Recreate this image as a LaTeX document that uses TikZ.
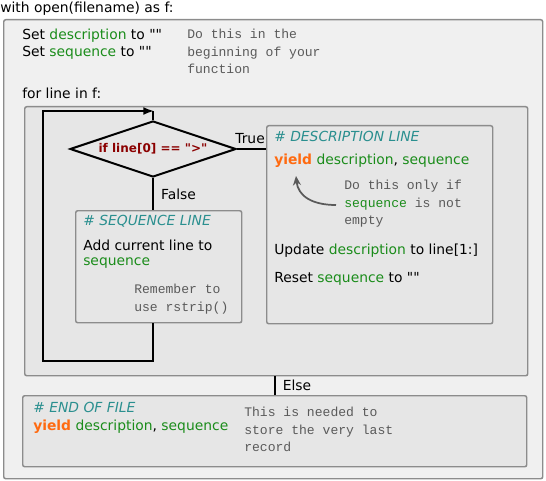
\documentclass[tikz,border=0pt]{standalone}
\usepackage{fontspec}
\setmainfont{DejaVu Sans}[Ligatures=TeXOff]
\newfontfamily\notefont{Liberation Mono}
\usepackage{xcolor}
\usetikzlibrary{arrows.meta, positioning, shapes.geometric}

\definecolor{vargreen}{HTML}{1A8C1A}
\definecolor{headteal}{HTML}{2A8F8F}
\definecolor{kworange}{HTML}{FF6A10}
\definecolor{conddark}{HTML}{8B0000}
\definecolor{notegray}{HTML}{5A5A5A}
\definecolor{outerfill}{HTML}{F0F0F0}
\definecolor{innerfill}{HTML}{E6E6E6}
\definecolor{boxline}{HTML}{8C8C8C}

\newcommand{\vn}[1]{\textcolor{vargreen}{#1}}
\newcommand{\kwd}[1]{\textcolor{kworange}{\bfseries #1}}
\newcommand{\hdr}[1]{\textcolor{headteal}{\itshape #1}}

\begin{document}
\begin{tikzpicture}[x=0.75pt, y=-0.75pt,
    font=\fontsize{10.4}{12}\selectfont,
    box/.style={rectangle, draw=boxline, line width=1.1pt, rounded corners=1.5pt, anchor=north west, inner sep=0pt},
    txt/.style={anchor=west, inner sep=0pt, align=left},
    note/.style={anchor=north west, inner sep=0pt, align=left, text=notegray, font=\notefont\fontsize{9.8}{13}\selectfont},
    flow/.style={line width=1.5pt, black}]
    \useasboundingbox (0,0) rectangle (546,481);

    % Outer with-block
    \node[txt] (withline) at (0,9) {with open(filename) as f:};
    \node[box, fill=outerfill, minimum width=404.25pt, minimum height=344.25pt] (outerbox) at (3,19) {};
    \node[txt] (setdesc) at (22,36) {Set \vn{description} to ""};
    \node[txt] (setseq) at (22,53) {Set \vn{sequence} to ""};
    \node[note] (initnote) at (187,29) {Do this in the\\beginning of your\\function};
    \node[txt] (forline) at (22,93) {for line in f:};

    % Loop body
    \node[box, fill=innerfill, minimum width=377.25pt, minimum height=201.75pt] (loopbox) at (24,106) {};
    \node[diamond, draw, line width=1.5pt, fill=innerfill, inner sep=0pt, aspect=3,
          minimum width=124.5pt, minimum height=42pt, text=conddark,
          font=\bfseries\fontsize{9}{10}\selectfont] (cond) at (153,149) {if line[0] == ">"};

    % Sequence branch
    \node[box, fill=innerfill, minimum width=124.5pt, minimum height=84pt] (seqbox) at (75,210) {};
    \node[txt] (seqhead) at (83,221) {\hdr{\# SEQUENCE LINE}};
    \node[txt] (seqadd) at (83,245) {Add current line to};
    \node[txt] (seqvar) at (83,263) {\vn{sequence}};
    \node[note] (seqnote) at (134,284) {Remember to\\use rstrip()};

    % Description branch
    \node[box, fill=innerfill, minimum width=169.5pt, minimum height=148.5pt] (descbox) at (266,125) {};
    \node[txt] (deschead) at (274,136) {\hdr{\# DESCRIPTION LINE}};
    \node[txt] (descyield) at (274,161) {\kwd{yield} \vn{description}, \vn{sequence}};
    \node[note] (descnote) at (344,180) {Do this only if\\\vn{sequence} is not\\empty};
    \draw[line width=1.3pt, notegray, -{Stealth[length=7pt, width=6pt]}]
        (descnote.north west) ++(-8,25) coordinate (notetail)
        .. controls (312,205) and (298,196) .. (296,176);
    \node[txt] (descupd) at (274,251) {Update \vn{description} to line[1:]};
    \node[txt] (descreset) at (274,279) {Reset \vn{sequence} to ""};

    % End of file
    \node[box, fill=innerfill, minimum width=378pt, minimum height=53.25pt] (eofbox) at (22,395) {};
    \node[txt] (eofhead) at (33,407) {\hdr{\# END OF FILE}};
    \node[txt] (eofyield) at (33,427) {\kwd{yield} \vn{description}, \vn{sequence}};
    \node[note] (eofnote) at (244,407) {This is needed to\\store the very last\\record};

    % Connectors
    \coordinate (loopbl) at (43,361);
    \coordinate (looptl) at (43,111);
    \coordinate (looptop) at (154,111);
    \draw[flow] (cond.south) -- (cond.south |- seqbox.north) node[pos=0.5, right=2pt] {False};
    \draw[flow] (cond.east) -- (cond.east -| descbox.west) node[pos=0.45, above=0pt] {True};
    \draw[flow, -{Latex[length=8pt, width=6pt]}] (cond.south |- seqbox.south) |- (loopbl) -- (looptl) -- (looptop);
    \draw[flow] (cond.north |- looptop) -- (cond.north);
    \draw[flow] (eofbox.north) -- (eofbox.north |- loopbox.south) node[pos=0.5, right=2pt] {Else};
\end{tikzpicture}
\end{document}
